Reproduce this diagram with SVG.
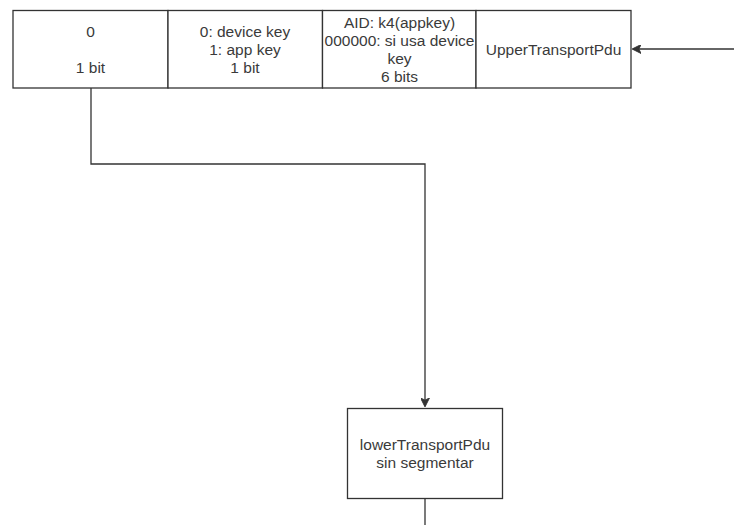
<svg xmlns="http://www.w3.org/2000/svg" width="734" height="525" viewBox="0 0 734 525">
  <defs>
    <style>
      .box { fill: #ffffff; stroke: #333333; stroke-width: 1.3; }
      .lbl { font-family: "Liberation Sans", Arial, sans-serif; font-size: 15.5px; fill: #3a3a3a; text-anchor: middle; }
      .edge { fill: none; stroke: #333333; stroke-width: 1.3; }
    </style>
    <marker id="arrow" viewBox="0 0 10 10" refX="9" refY="5" markerWidth="9" markerHeight="9" markerUnits="userSpaceOnUse" orient="auto">
      <path d="M0,0 L10,5 L0,10 L2.5,5 Z" fill="#333333" stroke="#333333" stroke-width="1"/>
    </marker>
  </defs>
  <rect width="734" height="525" fill="#ffffff"/>

  <g id="connectors">
    <path class="edge" d="M91,88 V164 H425 V406" marker-end="url(#arrow)"/>
    <path class="edge" d="M734,49 H633" marker-end="url(#arrow)"/>
    <path class="edge" d="M425,498 V525"/>
  </g>

  <g id="field-seg">
    <rect class="box" x="13" y="10.5" width="155" height="77.5"/>
    <text class="lbl" x="90.5" y="36.5">0</text>
    <text class="lbl" x="90.5" y="72.5">1 bit</text>
  </g>

  <g id="field-akf">
    <rect class="box" x="168" y="10.5" width="154.5" height="77.5"/>
    <text class="lbl" x="245" y="36.5">0: device key</text>
    <text class="lbl" x="245" y="54.5">1: app key</text>
    <text class="lbl" x="245" y="72.5">1 bit</text>
  </g>

  <g id="field-aid">
    <rect class="box" x="322.5" y="10.5" width="153.5" height="77.5"/>
    <text class="lbl" x="399.5" y="28">AID: k4(appkey)</text>
    <text class="lbl" x="399.5" y="46">000000: si usa device</text>
    <text class="lbl" x="399.5" y="64">key</text>
    <text class="lbl" x="399.5" y="82">6 bits</text>
  </g>

  <g id="upper-pdu">
    <rect class="box" x="476" y="10.5" width="155" height="77.5"/>
    <text class="lbl" x="553.5" y="54.5">UpperTransportPdu</text>
  </g>

  <g id="lower-pdu">
    <rect class="box" x="347.5" y="408.5" width="155" height="90"/>
    <text class="lbl" x="425" y="450">lowerTransportPdu</text>
    <text class="lbl" x="425" y="468">sin segmentar</text>
  </g>
</svg>
